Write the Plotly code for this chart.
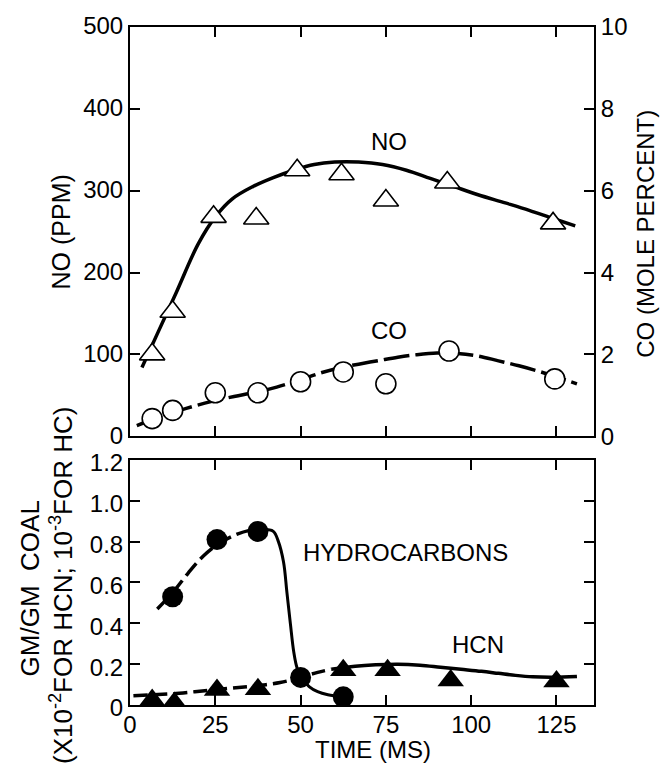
import plotly.graph_objects as go

# ---------------- data ----------------
time_no = [6.5, 12.5, 24.5, 37, 49, 62, 75, 93, 124]
no_ppm = [100, 152, 268, 266, 325, 320, 288, 310, 260]

time_co = [6.5, 12.5, 25, 37.5, 50, 62.5, 75, 93.5, 124.5]
co_pct = [0.43, 0.63, 1.06, 1.06, 1.33, 1.57, 1.28, 2.08, 1.4]

no_curve_t = [3.5, 8, 13.5, 20, 25, 30, 36, 42, 48, 54, 60, 67, 74, 81, 88, 95, 102, 110, 117, 124, 130.5]
no_curve_v = [84, 125, 175, 235, 268, 290, 305, 316, 325, 332, 335, 335, 332, 325, 315, 305, 295, 285, 276, 266, 257]

co_curve_t = [2, 8, 16.5, 24, 30.5, 37, 43, 50, 56, 62, 67, 73, 78.5, 84, 90, 96, 102, 108, 114, 120, 126, 131]
co_curve_v = [0.26, 0.45, 0.68, 0.85, 0.97, 1.08, 1.2, 1.38, 1.55, 1.68, 1.76, 1.85, 1.93, 1.99, 2.03, 2.02, 1.96, 1.84, 1.72, 1.58, 1.42, 1.28]

time_hc = [12.5, 25.5, 37.5, 50, 62.5]
hc_val = [0.53, 0.81, 0.85, 0.135, 0.04]

hc_curve_dash_t = [8, 12.5, 17, 21.5, 26, 30.5, 35, 39]
hc_curve_dash_v = [0.47, 0.55, 0.645, 0.73, 0.79, 0.83, 0.855, 0.86]
hc_curve_solid_t = [39, 42, 43.5, 45, 46, 47, 48, 49, 50.5, 52.5, 55, 58, 62.5]
hc_curve_solid_v = [0.86, 0.85, 0.8, 0.7, 0.55, 0.4, 0.26, 0.18, 0.13, 0.09, 0.065, 0.05, 0.04]

time_hcn = [6.5, 13, 25.5, 37.5, 62.5, 75.5, 94, 125]
hcn_val = [0.024, 0.01, 0.073, 0.077, 0.17, 0.17, 0.12, 0.115]

hcn_curve_dash_t = [1, 6.5, 12.5, 19, 25, 31, 37.5, 44, 50, 55, 59]
hcn_curve_dash_v = [0.045, 0.05, 0.055, 0.065, 0.075, 0.085, 0.095, 0.11, 0.135, 0.16, 0.175]
hcn_curve_solid_t = [59, 66, 72, 78.5, 85, 91, 97, 103, 108, 113, 118, 124, 131]
hcn_curve_solid_v = [0.175, 0.19, 0.197, 0.2, 0.195, 0.185, 0.175, 0.165, 0.155, 0.145, 0.138, 0.136, 0.14]

x_ticks = [0, 25, 50, 75, 100, 125]
no_ticks = [0, 100, 200, 300, 400, 500]
co_ticks = [0, 2, 4, 6, 8, 10]
gm_ticks = [0, 0.2, 0.4, 0.6, 0.8, 1.0, 1.2]
gm_ticktext = ["0", "0.2", "0.4", "0.6", "0.8", "1.0", "1.2"]

# ---------------- figure ----------------
FONT = "Liberation Sans, Arial, Helvetica, sans-serif"
BLK = "black"
fig = go.Figure()

# curves
fig.add_trace(go.Scatter(x=no_curve_t, y=no_curve_v, mode="lines", xaxis="x", yaxis="y",
                         line=dict(color=BLK, width=3.5, shape="spline"), hoverinfo="skip"))
fig.add_trace(go.Scatter(x=co_curve_t, y=co_curve_v, mode="lines", xaxis="x", yaxis="y2",
                         line=dict(color=BLK, width=3.5, shape="spline", dash="26px,6px"), hoverinfo="skip"))
fig.add_trace(go.Scatter(x=hc_curve_dash_t, y=hc_curve_dash_v, mode="lines", xaxis="x2", yaxis="y3",
                         line=dict(color=BLK, width=3.5, shape="spline", dash="16px,6px"), hoverinfo="skip"))
fig.add_trace(go.Scatter(x=hc_curve_solid_t, y=hc_curve_solid_v, mode="lines", xaxis="x2", yaxis="y3",
                         line=dict(color=BLK, width=3, shape="spline"), hoverinfo="skip"))
fig.add_trace(go.Scatter(x=hcn_curve_dash_t, y=hcn_curve_dash_v, mode="lines", xaxis="x2", yaxis="y3",
                         line=dict(color=BLK, width=3.5, shape="spline", dash="14px,6px"), hoverinfo="skip"))
fig.add_trace(go.Scatter(x=hcn_curve_solid_t, y=hcn_curve_solid_v, mode="lines", xaxis="x2", yaxis="y3",
                         line=dict(color=BLK, width=3.5, shape="spline"), hoverinfo="skip"))

# markers
fig.add_trace(go.Scatter(x=time_no, y=no_ppm, mode="markers", xaxis="x", yaxis="y", name="NO",
                         marker=dict(symbol="triangle-up", size=22, color="white",
                                     line=dict(color=BLK, width=1.6))))
fig.add_trace(go.Scatter(x=time_co, y=co_pct, mode="markers", xaxis="x", yaxis="y2", name="CO",
                         marker=dict(symbol="circle", size=20, color="white",
                                     line=dict(color=BLK, width=1.6))))
fig.add_trace(go.Scatter(x=time_hc, y=hc_val, mode="markers", xaxis="x2", yaxis="y3", name="HYDROCARBONS",
                         marker=dict(symbol="circle", size=21, color=BLK, line=dict(width=0))))
fig.add_trace(go.Scatter(x=time_hcn, y=hcn_val, mode="markers", xaxis="x2", yaxis="y3", name="HCN",
                         marker=dict(symbol="triangle-up", size=23, color=BLK, line=dict(width=0))))

tickfont = dict(family=FONT, size=24, color=BLK)
common_axis = dict(showgrid=False, zeroline=False, showline=True, linecolor=BLK, linewidth=2,
                   ticks="inside", ticklen=10, tickwidth=2, tickcolor=BLK, tickfont=tickfont)

top_dom = [0.3965, 1.0]
bot_dom = [0.0, 0.3615]

fig.update_layout(
    width=667, height=766,
    margin=dict(l=130, r=73, t=19, b=61),
    paper_bgcolor="white", plot_bgcolor="white",
    showlegend=False,
    font=dict(family=FONT, color=BLK),
    xaxis=dict(common_axis, domain=[0, 1], range=[0, 136], anchor="y",
               tickvals=x_ticks, showticklabels=False, mirror="ticks"),
    yaxis=dict(common_axis, domain=top_dom, range=[0, 500], anchor="x",
               tickvals=no_ticks, mirror=True, ticklabelshift=-1),
    yaxis2=dict(common_axis, domain=top_dom, range=[0, 10], anchor="x", overlaying="y",
                side="right", tickvals=co_ticks),
    xaxis2=dict(common_axis, domain=[0, 1], range=[0, 136], anchor="y3",
                tickvals=x_ticks, mirror="ticks", ticklabelstandoff=-3),
    yaxis3=dict(common_axis, domain=bot_dom, range=[0, 1.2], anchor="x2",
                tickvals=gm_ticks, ticktext=gm_ticktext, mirror="ticks", ticklabelshift=3),
)

lab = dict(family=FONT, size=24, color=BLK)
ttl = dict(family=FONT, size=25, color=BLK)
ttl_a = dict(family=FONT, size=26, color=BLK)
ttl_b = dict(family=FONT, size=26, color=BLK)
annotations = [
    dict(text="NO", x=76, y=360, xref="x", yref="y", showarrow=False, font=lab),
    dict(text="CO", x=76, y=129, xref="x", yref="y", showarrow=False, font=lab),
    dict(text="HYDROCARBONS", x=50, y=0.745, xref="x2", yref="y3", xanchor="left",
         showarrow=False, font=lab),
    dict(text="HCN", x=102, y=0.295, xref="x2", yref="y3", showarrow=False, font=lab),
    dict(text="NO (PPM)", x=-0.1487, y=0.697, xref="paper", yref="paper", textangle=-90,
         xanchor="center", yanchor="middle", showarrow=False, font=ttl),
    dict(text="CO (MOLE PERCENT)", x=1.112, y=0.695, xref="paper", yref="paper", textangle=-90,
         xanchor="center", yanchor="middle", showarrow=False, font=dict(family=FONT, size=24, color=BLK)),
    dict(text="GM/GM  COAL", x=-0.2155, y=0.172, xref="paper", yref="paper", textangle=-90,
         xanchor="center", yanchor="middle", showarrow=False, font=ttl_a),
    dict(text="(X10<sup>-2</sup>FOR HCN; 10<sup>-3</sup>FOR HC)", x=-0.148, y=0.176,
         xref="paper", yref="paper", textangle=-90,
         xanchor="center", yanchor="middle", showarrow=False, font=ttl_b),
    dict(text="TIME (MS)", x=0.524, y=-0.0889, xref="paper", yref="paper",
         xanchor="center", yanchor="bottom", showarrow=False,
         font=dict(family=FONT, size=24, color=BLK)),
]
fig.update_layout(annotations=annotations)

fig.write_html("out.html")
